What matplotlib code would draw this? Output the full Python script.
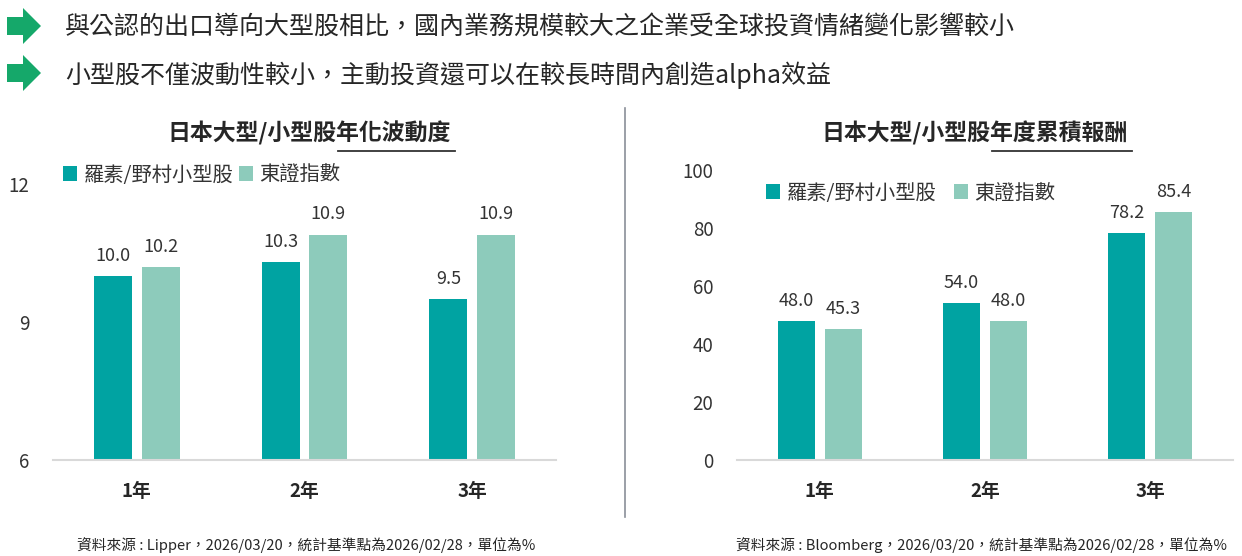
import matplotlib
matplotlib.use("Agg")
import matplotlib.pyplot as plt
from matplotlib.patches import Polygon
from matplotlib.lines import Line2D
from matplotlib.patches import Patch
import numpy as np

plt.rcParams['font.family'] = ['Noto Sans CJK TC', 'DejaVu Sans']

# ---- data ----
categories = ['1年', '2年', '3年']
series_names = ['羅素/野村小型股', '東證指數']
vol_small = [10.0, 10.3, 9.5]
vol_topix = [10.2, 10.9, 10.9]
ret_small = [48.0, 54.0, 78.2]
ret_topix = [45.3, 48.0, 85.4]
vol_ticks = [6, 9, 12]
ret_ticks = [0, 20, 40, 60, 80, 100]

headline1 = '與公認的出口導向大型股相比，國內業務規模較大之企業受全球投資情緒變化影響較小'
headline2 = '小型股不僅波動性較小，主動投資還可以在較長時間內創造alpha效益'
title_left_a = '日本大型/小型股'
title_left_b = '年化波動度'
title_right_a = '日本大型/小型股'
title_right_b = '年度累積報酬'
note_left = '資料來源 : Lipper，2026/03/20，統計基準點為2026/02/28，單位為%'
note_right = '資料來源 : Bloomberg，2026/03/20，統計基準點為2026/02/28，單位為%'

C1 = '#00A3A2'
C2 = '#8DCBBB'
GREEN = '#15A86A'
TXT = '#262626'

W, H = 1242, 556
fig = plt.figure(figsize=(W/100, H/100), dpi=100)

def fx(px): return px / W
def fy(py): return 1 - py / H

# arrows
for cy in (26, 73):
    pts = [(7, cy-9), (23, cy-9), (23, cy-18), (41, cy), (23, cy+18), (23, cy+9), (7, cy+9)]
    fig.patches.append(Polygon([(fx(x), fy(y)) for x, y in pts], closed=True,
                               transform=fig.transFigure, facecolor=GREEN, edgecolor='none'))

fig.text(fx(65), fy(28), headline1, fontsize=18, fontweight='medium', color=TXT, va='center', ha='left')
fig.text(fx(65), fy(75), headline2, fontsize=18, fontweight='medium', color=TXT, va='center', ha='left')

# divider
fig.add_artist(Line2D([fx(625), fx(625)], [fy(108), fy(517)], transform=fig.transFigure,
                      color='#8a8f98', lw=1.2))

def make_axes(l, r, top, ylim, ticks, s1, s2, fmt):
    ax = fig.add_axes([fx(l), fy(460), fx(r) - fx(l), fy(top) - fy(460)])
    x = np.arange(len(categories))
    w = 0.225
    off = 0.142
    ax.bar(x - off, [v - ylim[0] for v in s1], w, bottom=ylim[0], color=C1, label=series_names[0])
    ax.bar(x + off, [v - ylim[0] for v in s2], w, bottom=ylim[0], color=C2, label=series_names[1])
    for xs, vals in ((x - off, s1), (x + off, s2)):
        for xi, v in zip(xs, vals):
            ax.annotate(fmt.format(v), (xi, v), xytext=(0, 8), textcoords='offset points',
                        ha='center', va='bottom', fontsize=13, color='#333333')
    ax.set_xlim(-0.5, len(categories) - 0.5)
    ax.set_ylim(*ylim)
    ax.set_yticks(ticks)
    ax.set_yticklabels([str(t) for t in ticks], fontsize=13.5, color='#333333')
    ax.set_xticks(x)
    ax.set_xticklabels(categories, fontsize=13.5, fontweight='bold', color=TXT)
    ax.tick_params(axis='y', length=0, pad=17)
    ax.tick_params(axis='x', length=0, pad=16)
    for s in ('top', 'right', 'left'):
        ax.spines[s].set_visible(False)
    ax.spines['bottom'].set_color('#d9d9d9')
    ax.spines['bottom'].set_linewidth(1.5)
    ax.patch.set_alpha(0)
    return ax

axL = make_axes(53, 556, 184, (6, 12), vol_ticks, vol_small, vol_topix, '{:.1f}')
axR = make_axes(737, 1233, 170, (0, 100), ret_ticks, ret_small, ret_topix, '{:.1f}')

def legend(x0, y0, gap):
    h = [Patch(facecolor=C1), Patch(facecolor=C2)]
    leg = fig.legend(h, series_names, loc='center left', bbox_to_anchor=(fx(x0), fy(y0)),
                     ncol=2, frameon=False, prop={'size': 14.6},
                     handlelength=0.7, handleheight=0.7,
                     handletextpad=0.3, columnspacing=gap, borderaxespad=0, borderpad=0)
    for t in leg.get_texts():
        t.set_color('#333333')

legend(63, 175, 0.3)
legend(766, 193, 0.9)

# titles with partial underline
def title(cx, cy, a, b, ul0, ul1):
    fig.text(fx(cx), fy(cy), a + b, fontsize=16.5, fontweight='bold', color=TXT, ha='center', va='center')
    fig.add_artist(Line2D([fx(ul0), fx(ul1)], [fy(151), fy(151)], transform=fig.transFigure,
                          color='#333333', lw=1.3))

title(309, 133, title_left_a, title_left_b, 338, 455)
title(975, 133, title_right_a, title_right_b, 992, 1132)

fig.text(fx(306), fy(545), note_left, fontsize=10.6, color=TXT, ha='center', va='center')
fig.text(fx(981), fy(545), note_right, fontsize=10.6, color=TXT, ha='center', va='center')

fig.savefig('out.png', dpi=100)
